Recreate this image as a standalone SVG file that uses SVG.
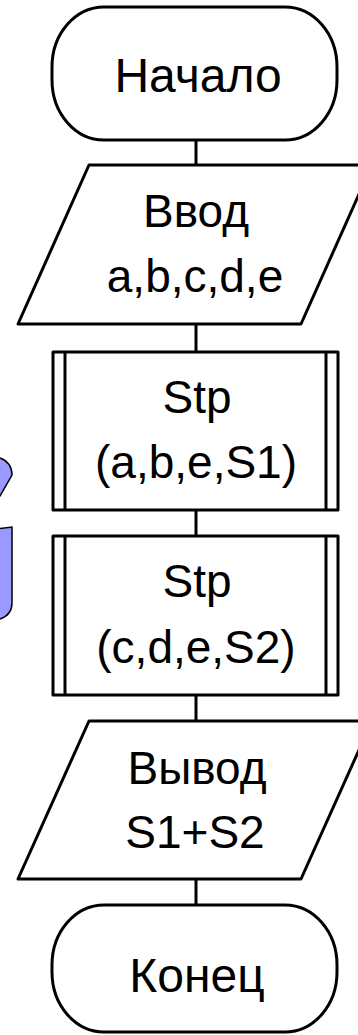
<svg xmlns="http://www.w3.org/2000/svg" width="358" height="1035" viewBox="0 0 358 1035">
<style>
.s{fill:#fff;stroke:#000;stroke-width:3;stroke-linejoin:round}
.l{fill:none;stroke:#000;stroke-width:3}
.t{font-family:"Liberation Sans",Arial,sans-serif;font-size:46px;fill:#000;text-anchor:middle}
.tt{font-size:48px}
.b{fill:#9999ff;stroke:#000;stroke-width:1.5}
</style>
<rect width="358" height="1035" fill="#fff"/>
<g id="deco">
<path class="b" d="M-5,458 L0,458 C8,461 12,467 12,475 L0,496 L-5,496 Z"/>
<path class="b" d="M-5,529 L12,527 L12,603 Q12,615 0,619 L-5,619 Z"/>
</g>
<g id="connectors">
<line class="l" x1="196" y1="140" x2="196" y2="165"/>
<line class="l" x1="196" y1="324" x2="196" y2="352"/>
<line class="l" x1="196" y1="510" x2="196" y2="536"/>
<line class="l" x1="196" y1="695" x2="196" y2="721"/>
<line class="l" x1="196" y1="879" x2="196" y2="905"/>
</g>
<g id="start">
<rect class="s" x="52" y="7" width="285" height="133" rx="52" ry="60"/>
<text class="t tt" x="198" y="92">Начало</text>
</g>
<g id="input">
<polygon class="s" points="89,165 372,165 301,324 18,324"/>
<text class="t" x="196" y="227">Ввод</text>
<text class="t" x="195" y="292">a,b,c,d,e</text>
</g>
<g id="stp1">
<rect class="s" x="53" y="352" width="285" height="158"/>
<line class="l" x1="65" y1="352" x2="65" y2="510"/>
<line class="l" x1="326" y1="352" x2="326" y2="510"/>
<text class="t" x="197" y="413">Stp</text>
<text class="t" x="196" y="478">(a,b,e,S1)</text>
</g>
<g id="stp2">
<rect class="s" x="53" y="536" width="285" height="159"/>
<line class="l" x1="65" y1="536" x2="65" y2="695"/>
<line class="l" x1="326" y1="536" x2="326" y2="695"/>
<text class="t" x="197" y="597">Stp</text>
<text class="t" x="196" y="663">(c,d,e,S2)</text>
</g>
<g id="output">
<polygon class="s" points="89,721 372,721 301,879 18,879"/>
<text class="t" x="197" y="784">Вывод</text>
<text class="t" x="195" y="848">S1+S2</text>
</g>
<g id="end">
<rect class="s" x="52" y="905" width="285" height="127" rx="52" ry="60"/>
<text class="t tt" x="197" y="992">Конец</text>
</g>
</svg>
